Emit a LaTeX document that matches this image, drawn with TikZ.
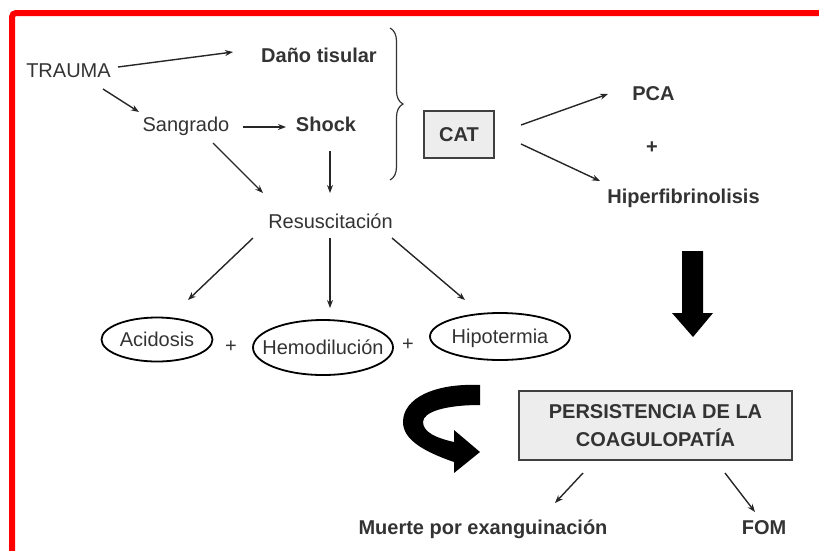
\documentclass[tikz,border=0pt]{standalone}
\usepackage{fontspec}
\setmainfont{Liberation Sans}
\usetikzlibrary{arrows.meta,shapes.geometric,decorations.pathreplacing}

\begin{document}
\begin{tikzpicture}[x=1pt,y=-1pt,
    txt/.style={inner sep=0pt, text height=14.3pt, text depth=0pt, text=black!80,
        font=\fontsize{20}{28}\selectfont},
    bld/.style={txt, font=\fontsize{20}{28}\selectfont\bfseries},
    oval/.style={txt, ellipse, draw=black, line width=1.8pt, inner xsep=-20pt},
    grbox/.style={draw=black!75, fill=black!7, line width=2pt, inner sep=0pt,
        text=black!80, font=\fontsize{20}{28}\selectfont\bfseries},
    arr/.style={-{Stealth[length=8pt,width=6pt]}, line width=1.4pt, black!85}]
    \useasboundingbox (0,0) rectangle (819,550);
    \clip (0,0) rectangle (819,550);
    \draw[red, line width=6pt, rounded corners=4pt] (12,600) -- (12,13) -- (900,13);

    \node[txt] (trauma) at (68.5,70) {TRAUMA};
    \node[bld] (dano) at (319,55.5) {Daño tisular};
    \node[txt] (sang) at (186,124) {Sangrado};
    \node[bld] (shock) at (326,124) {Shock};
    \node[txt] (resus) at (330.5,221.5) {Resuscitación};
    \node[grbox, minimum width=70pt, minimum height=47pt] (cat) at (459,134.5) {CAT};
    \node[bld] (pca) at (653.5,93.5) {PCA};
    \node[bld] (plusa) at (652,146) {+};
    \node[bld] (hiper) at (683.5,196.5) {Hiperfibrinolisis};

    \node[oval, minimum width=111pt, minimum height=44pt] (acid) at (157,339.5) {Acidosis};
    \node[oval, minimum width=140pt, minimum height=55pt] (hemo) at (323,347.5) {Hemodilución};
    \node[oval, minimum width=140pt, minimum height=47pt] (hipo) at (500,336.5) {Hipotermia};
    \node[txt] (plusb) at (231,345) {+};
    \node[txt] (plusc) at (408,343) {+};

    \node[grbox, align=center, minimum width=273pt, minimum height=69pt] (pers) at (655.5,425.5)
        {PERSISTENCIA DE LA\\COAGULOPATÍA};
    \node[bld] (muerte) at (483,527.5) {Muerte por exanguinación};
    \node[bld] (fom) at (764,527.5) {FOM};

    \draw[arr] ([shift={(49.5,-3)}]trauma.center) to ([shift={(-86,-3.5)}]dano.center);
    \draw[arr] ([shift={(34.5,19)}]trauma.center) to ([shift={(-47,-12)}]sang.center);
    \draw[arr] ([shift={(57,3)}]sang.center) to ([shift={(-40,3)}]shock.center);
    \draw[arr] ([shift={(27,19)}]sang.center) to ([shift={(-67.5,-28.5)}]resus.center);
    \draw[arr] ([shift={(4,27)}]shock.center) to ([shift={(-0.5,-28.5)}]resus.center);
    \draw[arr] ([shift={(-77.5,16.5)}]resus.center) to ([shift={(31,-39.5)}]acid.center);
    \draw[arr] ([shift={(-0.5,16.5)}]resus.center) to ([shift={(7,-39.5)}]hemo.center);
    \draw[arr] ([shift={(61.5,16.5)}]resus.center) to ([shift={(-35,-36.5)}]hipo.center);
    \draw[arr] ([shift={(62,-9.5)}]cat.center) to ([shift={(-45.5,0.5)}]pca.center);
    \draw[arr] ([shift={(62,9.5)}]cat.center) to ([shift={(-83.5,-15.5)}]hiper.center);
    \draw[arr] ([shift={(-72.5,47.5)}]pers.center) to ([shift={(72,-24.5)}]muerte.center);
    \draw[arr] ([shift={(69.5,47.5)}]pers.center) to ([shift={(-9,-15.5)}]fom.center);

    % brace over the first causes
    \draw[black!80, line width=1.2pt, decorate, decoration={brace, amplitude=13pt}]
        (390,28) -- (390,180);

    % block arrows
    \fill[black] (682,251) -- (703,251) -- (703,313) -- (713,313) -- (693,337)
        -- (672,313) -- (682,313) -- cycle;
    \fill[black] (480,385) .. controls (435,383) and (403,398) .. (403,422)
        .. controls (403,440) and (425,452) .. (454,462) -- (454,473) -- (480,452)
        -- (454,430) -- (454,442) .. controls (436,438) and (423,432) .. (423,422)
        .. controls (423,412) and (445,405) .. (480,405) -- cycle;
\end{tikzpicture}
\end{document}
